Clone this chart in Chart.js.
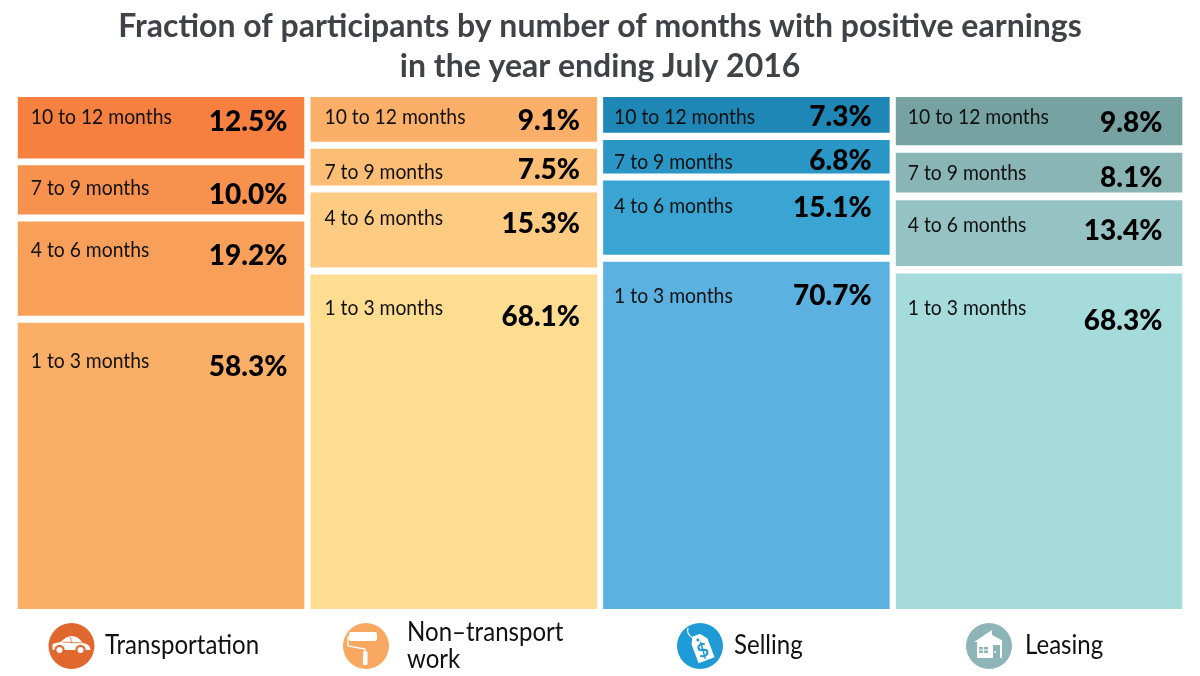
<!DOCTYPE html>
<html><head><meta charset="utf-8">
<style>html,body{margin:0;padding:0;background:#fff}canvas{display:block}</style>
<script src="https://cdn.jsdelivr.net/npm/chart.js@4/dist/chart.umd.min.js"></script>
</head><body><canvas id="c" width="1200" height="676"></canvas>
<script>
const categories = ['Transportation', 'Non-transport work', 'Selling', 'Leasing'];
const categoryLines = [['Transportation'], ['Non\u2013transport', 'work'], ['Selling'], ['Leasing']];
const rowLabels = ['10 to 12 months', '7 to 9 months', '4 to 6 months', '1 to 3 months'];
const months10to12 = [12.5, 9.1, 7.3, 9.8];
const months7to9 = [10.0, 7.5, 6.8, 8.1];
const months4to6 = [19.2, 15.3, 15.1, 13.4];
const months1to3 = [58.3, 68.1, 70.7, 68.3];
const titleLines = ['Fraction of participants by number of months with positive earnings', 'in the year ending July 2016'];

const rows = [months10to12, months7to9, months4to6, months1to3];
const rowColors = [
  ['#F58040', '#FBAF68', '#1F87B6', '#76A2A2'],
  ['#F6914E', '#FCBD75', '#2A96C5', '#8AB5B5'],
  ['#F8A05A', '#FDCB82', '#3AA5D3', '#95C2C2'],
  ['#FBAE66', '#FEDC90', '#5BB2E0', '#A6DBDB']
];
const iconColors = ['#E0672E', '#F8A860', '#1E9BD7', '#8DB5B8'];
const yMax = 104.26;
const spacer = categories.map((_, i) => (yMax - rows.reduce((s, r) => s + r[i], 0)) / 3);

const datasets = [];
rows.forEach((r, k) => {
  datasets.push({ label: rowLabels[k], data: r, backgroundColor: rowColors[k], stack: 's', rowIndex: k });
  if (k < 3) datasets.push({ label: 'gap', data: spacer, backgroundColor: 'rgba(0,0,0,0)', stack: 's' });
});

// text placement, measured from each block's top edge
const labelOffset = [[20, 23, 29, 39], [20, 24, 26, 34], [20, 22, 26, 34], [20, 20, 25, 35]];
const valueOffset = [[25, 30, 35, 44], [24, 21, 32, 42], [20, 21, 27, 34], [26, 25, 31, 47]];
const labelInset = [13, 14, 11, 12];
const valueInset = [17, 17, 18, 20];
const iconCentres = [71.5, 366, 700, 989];
const nameLeft = [105, 407, 734, 1025];
const LABEL_FONT = '21px "Lato"';
const LABEL_SQUEEZE = 0.92;
const VALUE_FONT = '900 28px "Lato"';
const NAME_FONT = '26px "Lato"';
const NAME_SQUEEZE = 0.925;

function squeezedText(ctx, text, x, y, sx) {
  ctx.save(); ctx.translate(x, y); ctx.scale(sx, 1); ctx.fillText(text, 0, 0); ctx.restore();
}

function drawIcon(ctx, i, cx, cy) {
  ctx.save();
  ctx.fillStyle = iconColors[i];
  ctx.beginPath(); ctx.arc(cx, cy, 23, 0, Math.PI * 2); ctx.fill();
  ctx.fillStyle = '#fff';
  ctx.strokeStyle = '#fff';
  ctx.translate(cx, cy);
  if (i === 0) {
    ctx.beginPath();
    ctx.moveTo(-19, 4); ctx.lineTo(-19, -2); ctx.quadraticCurveTo(-16, -3, -11, -4);
    ctx.quadraticCurveTo(-5, -10, 0, -10); ctx.quadraticCurveTo(7, -10, 11, -3);
    ctx.quadraticCurveTo(19, -2, 19, 4); ctx.closePath(); ctx.fill();
    ctx.strokeStyle = iconColors[0]; ctx.lineWidth = 0.8;
    ctx.beginPath(); ctx.moveTo(-9, -4); ctx.lineTo(10, -3); ctx.moveTo(-1, -9); ctx.lineTo(0, -3); ctx.stroke();
    [-12, 9].forEach(d => {
      ctx.fillStyle = iconColors[0]; ctx.beginPath(); ctx.arc(d, 4, 5.2, 0, 7); ctx.fill();
      ctx.fillStyle = '#fff'; ctx.beginPath(); ctx.arc(d, 4, 3, 0, 7); ctx.fill();
    });
  } else if (i === 1) {
    ctx.beginPath(); ctx.roundRect(-17, -14, 28, 9, 2); ctx.fill();
    ctx.lineWidth = 1.4; ctx.beginPath();
    ctx.moveTo(-16, -9); ctx.lineTo(-18, -9); ctx.lineTo(-18, 0); ctx.lineTo(-1, 3); ctx.lineTo(-1, 7); ctx.stroke();
    ctx.beginPath(); ctx.roundRect(-3, 5, 4.5, 14, 1.5); ctx.fill();
  } else if (i === 2) {
    ctx.lineWidth = 1.2; ctx.beginPath(); ctx.moveTo(-7, -8); ctx.quadraticCurveTo(-14, -12, -12, -18); ctx.stroke();
    ctx.save(); ctx.translate(2, 2); ctx.rotate(-0.36);
    ctx.beginPath(); ctx.moveTo(-5, -14); ctx.lineTo(3, -14); ctx.lineTo(8.5, -7); ctx.lineTo(8.5, 13); ctx.lineTo(-8.5, 13); ctx.lineTo(-8.5, -7); ctx.closePath(); ctx.fill();
    ctx.fillStyle = iconColors[2];
    ctx.beginPath(); ctx.arc(-1, -9, 1.5, 0, 7); ctx.fill();
    ctx.font = 'bold 19px "Lato"'; ctx.textAlign = 'center'; ctx.textBaseline = 'middle';
    ctx.fillText('$', 0, 3);
    ctx.restore();
  } else {
    ctx.beginPath(); ctx.moveTo(-15, -4); ctx.lineTo(3, -16); ctx.lineTo(3, -11); ctx.lineTo(14, -5);
    ctx.lineTo(13, -5); ctx.lineTo(13, 12); ctx.lineTo(-12, 12); ctx.lineTo(-12, -4); ctx.closePath(); ctx.fill();
    ctx.fillStyle = iconColors[3];
    ctx.fillRect(-10, 1, 9, 6);
    ctx.fillRect(4, -1, 7, 13);
    ctx.fillStyle = '#fff';
    ctx.fillRect(-6, 1, 1, 6); ctx.fillRect(-10, 3.5, 9, 1); ctx.fillRect(5.5, 5, 1.5, 2);
  }
  ctx.restore();
}

const blockText = {
  id: 'blockText',
  afterDatasetsDraw(chart) {
    const ctx = chart.ctx;
    ctx.save();
    ctx.textBaseline = 'middle';
    chart.data.datasets.forEach((ds, d) => {
      if (ds.rowIndex === undefined) return;
      const k = ds.rowIndex;
      chart.getDatasetMeta(d).data.forEach((el, i) => {
        const top = Math.min(el.y, el.base);
        const left = el.x - el.width / 2, right = el.x + el.width / 2;
        ctx.fillStyle = '#111';
        ctx.font = LABEL_FONT; ctx.textAlign = 'left';
        squeezedText(ctx, rowLabels[k], left + labelInset[i], top + labelOffset[i][k], LABEL_SQUEEZE);
        ctx.fillStyle = '#000';
        ctx.font = VALUE_FONT; ctx.textAlign = 'right';
        ctx.fillText(ds.data[i].toFixed(1) + '%', right - valueInset[i], top + valueOffset[i][k]);
      });
    });
    categories.forEach((_, i) => {
      drawIcon(ctx, i, iconCentres[i], 646);
      ctx.fillStyle = '#111'; ctx.font = NAME_FONT; ctx.textAlign = 'left';
      const lines = categoryLines[i];
      lines.forEach((t, n) => squeezedText(ctx, t, nameLeft[i], lines.length > 1 ? 633 + n * 27 : 646, NAME_SQUEEZE));
    });
    ctx.restore();
  }
};

new Chart(document.getElementById('c'), {
  type: 'bar',
  data: { labels: categories, datasets },
  plugins: [blockText],
  options: {
    responsive: false,
    animation: false,
    devicePixelRatio: 1,
    layout: { padding: { left: 14.7, right: 14.6, top: 0, bottom: 67 } },
    datasets: { bar: { barPercentage: 1, categoryPercentage: 0.979, borderWidth: 0 } },
    scales: {
      x: { stacked: true, display: false },
      y: { stacked: true, display: false, reverse: true, min: 0, max: yMax }
    },
    plugins: {
      legend: { display: false },
      tooltip: { enabled: false },
      title: {
        display: true, text: titleLines, color: '#3f4347',
        font: { family: 'Lato', size: 32, weight: 'bold', lineHeight: 1.25 },
        padding: { top: 7, bottom: 10 }
      }
    }
  }
});
</script></body></html>
